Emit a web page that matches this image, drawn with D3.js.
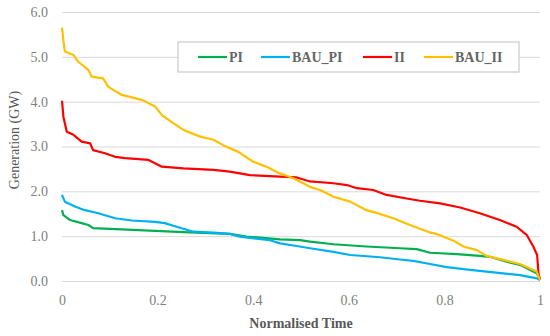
<!DOCTYPE html>
<html>
<head>
<meta charset="utf-8">
<script src="https://d3js.org/d3.v7.min.js"></script>
<style>
  body { margin: 0; background: #fff; }
  .gridlines line { stroke: #d9d9d9; stroke-width: 1; }
  .gridlines .domain { stroke: none; }
  .axis text { font-family: "Liberation Serif", serif; font-size: 14px; fill: #808080; }
  .axis .domain, .axis line { stroke: none; }
</style>
</head>
<body>
<svg id="chart" width="550" height="336"></svg>
<script>
// series: [normalised time, GW]
const piData = [[0,1.58],[0.003,1.47],[0.017,1.36],[0.041,1.29],[0.055,1.25],[0.065,1.18],[0.125,1.15],
  [0.195,1.12],[0.254,1.09],[0.351,1.05],[0.386,0.99],[0.456,0.93],[0.498,0.91],[0.519,0.88],[0.568,0.82],
  [0.637,0.77],[0.707,0.73],[0.742,0.71],[0.770,0.63],[0.826,0.60],[0.874,0.56],[0.895,0.54],[0.930,0.43],
  [0.958,0.36],[0.993,0.17],[1,0.05]];
const bauPiData = [[0,1.92],[0.006,1.77],[0.027,1.66],[0.048,1.58],[0.076,1.51],[0.111,1.40],[0.146,1.35],
  [0.195,1.32],[0.215,1.29],[0.243,1.20],[0.275,1.10],[0.317,1.08],[0.351,1.05],[0.372,0.99],[0.435,0.91],
  [0.456,0.84],[0.491,0.78],[0.519,0.73],[0.568,0.65],[0.603,0.58],[0.665,0.53],[0.707,0.48],[0.735,0.45],
  [0.770,0.38],[0.805,0.31],[0.854,0.25],[0.923,0.17],[0.958,0.13],[0.994,0.06],[1,0.02]];
const iiData = [[0,4.02],[0.003,3.66],[0.010,3.33],[0.024,3.26],[0.041,3.11],[0.059,3.07],[0.065,2.92],
  [0.090,2.85],[0.111,2.77],[0.132,2.74],[0.181,2.70],[0.209,2.55],[0.254,2.51],[0.317,2.48],[0.351,2.44],
  [0.393,2.36],[0.456,2.33],[0.491,2.31],[0.519,2.22],[0.568,2.18],[0.596,2.14],[0.617,2.07],[0.651,2.03],
  [0.679,1.92],[0.721,1.84],[0.749,1.79],[0.791,1.73],[0.833,1.64],[0.874,1.51],[0.916,1.36],[0.951,1.21],
  [0.972,1.03],[0.986,0.77],[0.994,0.58],[0.997,0.15],[1,0.02]];
const bauIiData = [[0,5.65],[0.003,5.35],[0.006,5.12],[0.024,5.04],[0.034,4.89],[0.055,4.71],[0.062,4.56],
  [0.086,4.52],[0.097,4.33],[0.125,4.15],[0.167,4.04],[0.195,3.89],[0.209,3.70],[0.229,3.55],[0.254,3.37],
  [0.289,3.22],[0.317,3.15],[0.337,3.03],[0.369,2.88],[0.400,2.66],[0.428,2.55],[0.456,2.40],[0.484,2.29],
  [0.519,2.10],[0.540,2.03],[0.568,1.88],[0.603,1.77],[0.637,1.58],[0.658,1.52],[0.693,1.40],[0.728,1.25],
  [0.770,1.08],[0.784,1.05],[0.819,0.90],[0.840,0.77],[0.868,0.69],[0.888,0.56],[0.923,0.47],[0.958,0.38],
  [0.993,0.21],[1,0.02]];

const seriesNames = ['PI', 'BAU_PI', 'II', 'BAU_II'];
const seriesColors = ['#00b050', '#00b0f0', '#ff0000', '#ffc000'];
const yTicks = [0, 1, 2, 3, 4, 5, 6];
const xTicks = [0, 0.2, 0.4, 0.6, 0.8, 1];

const svg = d3.select('svg#chart');
const margins = {top: 12, right: 10, bottom: 55, left: 62};
const chartWidth = 540 - margins.left;
const chartHeight = 281 - margins.top;

const chartArea = svg.append('g')
  .attr('transform', `translate(${margins.left},${margins.top})`);

const xScale = d3.scaleLinear().domain([0, 1]).range([0, chartWidth]);
const yScale = d3.scaleLinear().domain([0, 6]).range([chartHeight, 0]);

// gridlines
chartArea.append('g').attr('class', 'gridlines')
  .call(d3.axisLeft(yScale).tickValues(yTicks).tickSize(-chartWidth).tickFormat(''));

// axes
chartArea.append('g').attr('class', 'axis')
  .attr('transform', 'translate(-4,0)')
  .call(d3.axisLeft(yScale).tickValues(yTicks).tickSize(0).tickPadding(10).tickFormat(d3.format('.1f')));

chartArea.append('g').attr('class', 'axis')
  .attr('transform', `translate(0,${chartHeight})`)
  .call(d3.axisBottom(xScale).tickValues(xTicks).tickSize(0).tickPadding(14).tickFormat(d => d));

// lines
const line = d3.line().x(d => xScale(d[0])).y(d => yScale(d[1]));
[piData, bauPiData, iiData, bauIiData].forEach((data, i) => {
  chartArea.append('path')
    .datum(data)
    .attr('d', line)
    .attr('fill', 'none')
    .attr('stroke', seriesColors[i])
    .attr('stroke-width', 2.2)
    .attr('stroke-linejoin', 'round');
});

// axis titles
svg.append('text')
  .attr('transform', 'translate(19,140) rotate(-90)')
  .attr('text-anchor', 'middle')
  .style('font-family', '"Liberation Serif", serif')
  .style('font-size', '14px')
  .style('fill', '#595959')
  .text('Generation (GW)');

svg.append('text')
  .attr('x', margins.left + chartWidth / 2)
  .attr('y', 328)
  .attr('text-anchor', 'middle')
  .style('font-family', '"Liberation Serif", serif')
  .style('font-size', '14px')
  .style('font-weight', 'bold')
  .style('fill', '#595959')
  .text('Normalised Time');

// legend
const legend = svg.append('g').attr('transform', 'translate(178,42)');
legend.append('rect')
  .attr('width', 341).attr('height', 30)
  .attr('fill', '#fff').attr('stroke', '#bfbfbf');
const legendX = [20, 83, 185, 246];
seriesNames.forEach((name, i) => {
  const g = legend.append('g').attr('transform', `translate(${legendX[i]},15)`);
  g.append('line').attr('x1', 0).attr('x2', 29)
    .attr('stroke', seriesColors[i]).attr('stroke-width', 2.2);
  g.append('text').attr('x', 31).attr('dy', '0.35em')
    .style('font-family', '"Liberation Serif", serif')
    .style('font-size', '14px')
    .style('font-weight', 'bold')
    .style('fill', '#666')
    .text(name);
});
</script>
</body>
</html>
